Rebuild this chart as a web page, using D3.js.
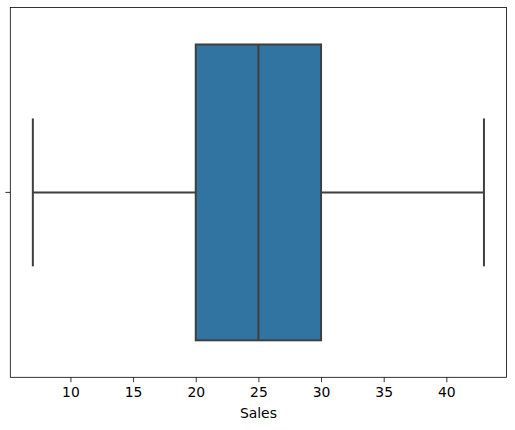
<!DOCTYPE html>
<html>
<head>
<meta charset="utf-8">
<style>
  body { margin: 0; background: #fff; }
  svg { display: block; }
</style>
</head>
<body>
<svg width="515" height="430"></svg>
<script src="https://cdn.jsdelivr.net/npm/d3@7"></script>
<script>
// box summary: [min whisker, q1, median, q3, max whisker]
var categories = [""];
var boxStats = [[7, 20, 25, 30, 43]];
var xTicks = [10, 15, 20, 25, 30, 35, 40];
var xLabel = "Sales";

var svg = d3.select("svg");
var margin = {top: 7.5, right: 8.5, bottom: 52.7, left: 10.3};
var width = +svg.attr("width") - margin.left - margin.right;
var height = +svg.attr("height") - margin.top - margin.bottom;

var g = svg.append("g")
    .attr("transform", "translate(" + margin.left + "," + margin.top + ")");

// matplotlib style 5% padding on the data range
var lo = d3.min(boxStats, function(d) { return d[0]; });
var hi = d3.max(boxStats, function(d) { return d[4]; });
var pad = (hi - lo) * 0.05;

var x = d3.scaleLinear()
    .domain([lo - pad, hi + pad])
    .range([0, width]);

var y = d3.scaleBand()
    .domain(categories)
    .range([0, height])
    .paddingInner(0)
    .paddingOuter(0);

var boxH = y.bandwidth() * 0.8;
var capH = boxH / 2;
var lineColor = "#3f3f3f";

var boxes = g.selectAll(".box")
    .data(boxStats)
  .enter().append("g")
    .attr("class", "box")
    .attr("transform", function(d, i) { return "translate(0," + (y(categories[i]) + y.bandwidth() / 2) + ")"; });

// whiskers
boxes.append("line")
    .attr("x1", function(d) { return x(d[0]); })
    .attr("x2", function(d) { return x(d[1]); })
    .attr("stroke", lineColor).attr("stroke-width", 2);
boxes.append("line")
    .attr("x1", function(d) { return x(d[3]); })
    .attr("x2", function(d) { return x(d[4]); })
    .attr("stroke", lineColor).attr("stroke-width", 2);

// caps
[0, 4].forEach(function(k) {
  boxes.append("line")
      .attr("x1", function(d) { return x(d[k]); })
      .attr("x2", function(d) { return x(d[k]); })
      .attr("y1", -capH / 2)
      .attr("y2", capH / 2)
      .attr("stroke", lineColor).attr("stroke-width", 2);
});

// box
boxes.append("rect")
    .attr("x", function(d) { return x(d[1]); })
    .attr("width", function(d) { return x(d[3]) - x(d[1]); })
    .attr("y", -boxH / 2)
    .attr("height", boxH)
    .attr("fill", "#3274a1")
    .attr("stroke", lineColor).attr("stroke-width", 2);

// median
boxes.append("line")
    .attr("x1", function(d) { return x(d[2]); })
    .attr("x2", function(d) { return x(d[2]); })
    .attr("y1", -boxH / 2)
    .attr("y2", boxH / 2)
    .attr("stroke", lineColor).attr("stroke-width", 2);

// axes
var xAxis = d3.axisBottom(x).tickValues(xTicks).tickSize(4.9).tickPadding(4.9);
var yAxis = d3.axisLeft(y).tickSize(4.9);

var gx = g.append("g")
    .attr("transform", "translate(0," + height + ")")
    .call(xAxis);
var gy = g.append("g").call(yAxis);

[gx, gy].forEach(function(a) {
  a.select(".domain").remove();
  a.selectAll(".tick line").attr("stroke", "#000").attr("stroke-width", 0.8);
  a.selectAll(".tick text")
      .attr("fill", "#000")
      .style("font-family", "DejaVu Sans")
      .style("font-size", "13.9px");
});

// frame
g.append("rect")
    .attr("width", width)
    .attr("height", height)
    .attr("fill", "none")
    .attr("stroke", "#000")
    .attr("stroke-width", 0.8);

g.append("text")
    .attr("x", width / 2)
    .attr("y", height + 41)
    .attr("text-anchor", "middle")
    .style("font-family", "DejaVu Sans")
    .style("font-size", "13.9px")
    .text(xLabel);
</script>
</body>
</html>
